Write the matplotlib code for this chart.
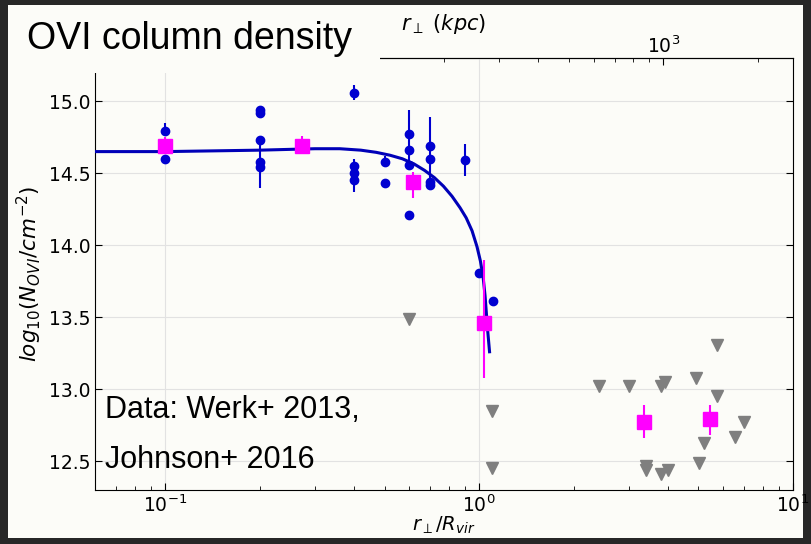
import numpy as np
import matplotlib
matplotlib.use('Agg')
import matplotlib.pyplot as plt
from matplotlib.patches import Rectangle

# blue points (Werk+ 2013 detections)
blue_x = [0.1, 0.1, 0.2, 0.2, 0.2, 0.2, 0.2, 0.4, 0.4, 0.4, 0.4, 0.5, 0.5,
          0.6, 0.6, 0.6, 0.6, 0.7, 0.7, 0.7, 0.7, 0.9, 1.0, 1.11]
blue_y = [14.79, 14.60, 14.94, 14.92, 14.73, 14.58, 14.54, 15.06, 14.55, 14.50, 14.45, 14.58, 14.43,
          14.77, 14.66, 14.56, 14.21, 14.69, 14.60, 14.44, 14.42, 14.59, 13.81, 13.61]
blue_lo = [0.0, 0.0, 0.0, 0.0, 0.0, 0.18, 0.0, 0.05, 0.0, 0.13, 0.0, 0.04, 0.0,
           0.0, 0.14, 0.0, 0.0, 0.0, 0.15, 0.0, 0.0, 0.11, 0.02, 0.0]
blue_hi = [0.06, 0.0, 0.0, 0.0, 0.0, 0.18, 0.0, 0.05, 0.0, 0.10, 0.0, 0.04, 0.0,
           0.0, 0.28, 0.0, 0.0, 0.0, 0.29, 0.0, 0.0, 0.11, 0.02, 0.0]

# binned means (magenta)
mag_x = [0.1, 0.273, 0.616, 1.037, 3.35, 5.44]
mag_y = [14.69, 14.69, 14.44, 13.46, 12.77, 12.79]
mag_lo = [0.06, 0.06, 0.11, 0.38, 0.11, 0.11]
mag_hi = [0.06, 0.07, 0.07, 0.44, 0.12, 0.10]

# upper limits (grey triangles)
tri_x = [0.6, 1.10, 1.10, 2.41, 3.0, 3.80, 3.91, 4.91, 5.73, 5.73, 6.98, 6.53, 5.21, 5.02, 3.40, 3.40, 3.80, 4.0]
tri_y = [13.49, 12.85, 12.45, 13.02, 13.02, 13.02, 13.05, 13.08, 13.31, 12.95, 12.77, 12.67, 12.625, 12.49,
         12.47, 12.44, 12.41, 12.44]

# model curve
curve_x = [0.06, 0.1, 0.2, 0.3, 0.36, 0.42, 0.47, 0.52, 0.57, 0.62, 0.67, 0.72, 0.77, 0.82, 0.87, 0.91,
           0.95, 0.985, 1.01, 1.03, 1.045, 1.055, 1.065, 1.08]
curve_y = [14.65, 14.65, 14.66, 14.67, 14.67, 14.66, 14.645, 14.625, 14.60, 14.565, 14.52, 14.47, 14.41,
           14.34, 14.26, 14.19, 14.10, 13.99, 13.89, 13.78, 13.65, 13.53, 13.41, 13.26]

top_ticks = [1000]
Rvir = 259.0  # kpc

panel = '#fcfcf8'
fig = plt.figure(figsize=(8.12, 5.44), dpi=100, facecolor='#272727')
W, H = 812.0, 544.0

# white slide panel
fig.add_artist(Rectangle((8 / W, 1 - 538 / H), 795 / W, 533 / H, transform=fig.transFigure,
                         facecolor=panel, edgecolor='none', zorder=-10))

ax = fig.add_axes([95 / W, 1 - 490 / H, 698 / W, 432 / H])
ax.set_facecolor(panel)
ax.set_xscale('log')
ax.set_xlim(0.0598, 10)
ax.set_ylim(12.3, 15.3)

ax.grid(True, which='major', color='#e2e2e2', lw=0.8)
ax.set_axisbelow(True)

ax.errorbar(blue_x, blue_y, yerr=[blue_lo, blue_hi], fmt='o', color='#0000d0', ms=6,
            elinewidth=1.5, capsize=0, zorder=3)
ax.plot(tri_x, tri_y, 'v', color='#7f7f7f', ms=8.5, zorder=3)
ax.plot(curve_x, curve_y, '-', color='#0000b8', lw=2.2, zorder=4)
ax.errorbar(mag_x, mag_y, yerr=[mag_lo, mag_hi], fmt='s', color='#ff00ff', ms=10,
            elinewidth=1.5, capsize=0, zorder=5)

ax.set_yticks([12.5, 13.0, 13.5, 14.0, 14.5, 15.0])
ax.tick_params(which='both', direction='in', right=True, labelsize=13.5)
ax.tick_params(which='major', length=5)
ax.tick_params(which='minor', length=3)
ax.set_xlabel(r'$r_\perp/R_{vir}$', fontsize=14, labelpad=-1)
ax.set_ylabel(r'$log_{10}(N_{OVI}/cm^{-2})$', fontsize=15.5, labelpad=3)

sec = ax.secondary_xaxis('top', functions=(lambda x: x * Rvir, lambda x: x / Rvir))
sec.set_xticks(top_ticks)
sec.tick_params(which='both', direction='in', labelsize=13.5, pad=1)
sec.tick_params(which='major', length=5)
sec.tick_params(which='minor', length=3)
sec.set_xlabel(r'$r_\perp\ (kpc)$', fontsize=15, labelpad=4)

# title box drawn over the top-left corner
fig.add_artist(Rectangle((10 / W, 1 - 73 / H), 370 / W, 67 / H, transform=fig.transFigure,
                         facecolor=panel, edgecolor='none', zorder=10))
fig.text(27 / W, 1 - 39 / H, 'OVI column density', fontsize=27, family='Liberation Sans',
         va='center', ha='left', zorder=11)

fig.text(105 / W, 1 - 410 / H, 'Data: Werk+ 2013,', fontsize=22, family='Liberation Sans',
         va='center', ha='left', zorder=11)
fig.text(105 / W, 1 - 460 / H, 'Johnson+ 2016', fontsize=22, family='Liberation Sans',
         va='center', ha='left', zorder=11)

fig.savefig('out.png', dpi=100, facecolor=fig.get_facecolor())
